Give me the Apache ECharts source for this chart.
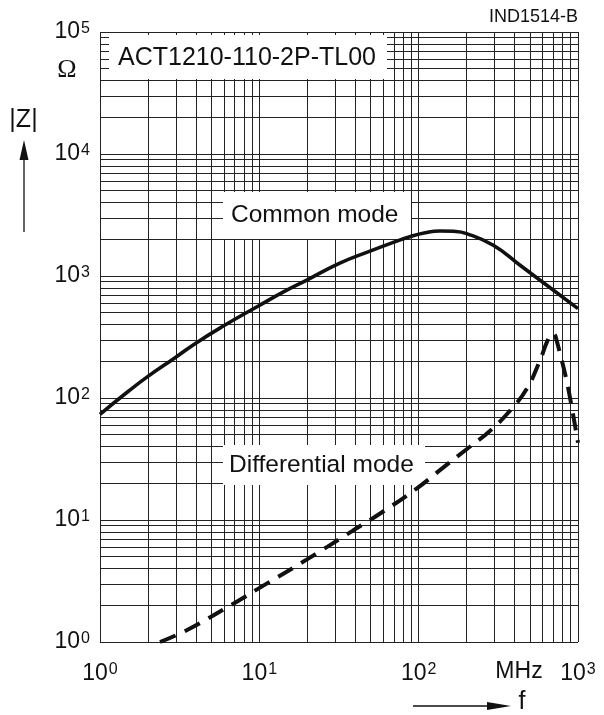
<!DOCTYPE html>
<html>
<head>
<meta charset="utf-8">
<script src="https://cdn.jsdelivr.net/npm/echarts@6/dist/echarts.min.js"></script>
<style>
html,body{margin:0;padding:0;background:#fff;}
#c{width:604px;height:715px;}
</style>
</head>
<body>
<div id="c"></div>
<script>
// Common mode impedance |Z| (Ohm) vs frequency (MHz)
const freqCM = [1, 1.5, 1.98, 2.96, 3.95, 5.94, 9.86, 14, 20, 32, 49.5, 70, 88, 110, 136, 165, 200, 294, 433, 637, 1000];
const zCM    = [73.5, 113, 149, 214, 279, 389, 568, 734, 930, 1275, 1600, 1895, 2100, 2262, 2339, 2324, 2227, 1785, 1224, 839, 540];
// Differential mode impedance
const freqDM = [2.38, 3.5, 6.87, 9.86, 19.8, 38.9, 57.3, 97, 143, 200, 281, 375, 477, 578, 640, 690, 715, 735, 760, 842, 920, 1000];
const zDM    = [1.0, 1.25, 2.06, 2.74, 4.73, 8.23, 11.3, 18.1, 27, 38, 54, 79, 119, 204, 290, 338, 330, 295, 250, 145, 80, 43];
// grid definition
const gridMultipliers = [1, 2, 3, 4, 5, 6, 7, 8, 9];
const xDecades = [1, 10, 100];
const yDecades = [1, 10, 100, 1000, 10000];
const xMax = 1000, yMax = 100000;

const FONT = '"Liberation Sans", Arial, Helvetica, sans-serif';
const xGrid = [], yGrid = [];
xDecades.forEach(d => gridMultipliers.forEach(m => xGrid.push(m * d)));
xGrid.push(xMax);
yDecades.forEach(d => gridMultipliers.forEach(m => yGrid.push(m * d)));
yGrid.push(yMax);

const gridLines = xGrid.map(v => ({xAxis: v})).concat(yGrid.map(v => ({yAxis: v})));

function supLabel(v) {
  const e = Math.round(Math.log10(v));
  return '{b|10}{s|' + e + '}';
}
const richLbl = {
  b: {fontSize: 23, fontFamily: FONT, color: '#111'},
  s: {fontSize: 16, fontFamily: FONT, color: '#111', verticalAlign: 'top', padding: [0, 0, 0, 1]}
};

const chart = echarts.init(document.getElementById('c'), null, {renderer: 'canvas'});
chart.setOption({
  animation: false,
  backgroundColor: '#fff',
  grid: {left: 100, right: 26, top: 32, bottom: 73, show: false},
  xAxis: {
    type: 'log', logBase: 10, min: 1, max: xMax,
    axisLine: {show: false}, axisTick: {show: false},
    splitLine: {show: false}, minorSplitLine: {show: false},
    axisLabel: {formatter: supLabel, rich: richLbl, margin: 20, color: '#111', showMinLabel: true, showMaxLabel: true}
  },
  yAxis: {
    type: 'log', logBase: 10, min: 1, max: yMax,
    axisLine: {show: false}, axisTick: {show: false},
    splitLine: {show: false}, minorSplitLine: {show: false},
    axisLabel: {formatter: supLabel, rich: richLbl, margin: 10, color: '#111', showMinLabel: true, showMaxLabel: true}
  },
  series: [
    {
      type: 'line', data: [], z: 1, silent: true,
      markLine: {
        z: 1, silent: true, symbol: 'none', animation: false,
        label: {show: false},
        lineStyle: {color: '#222', width: 1, type: 'solid'},
        emphasis: {disabled: true},
        data: gridLines
      }
    },
    {
      name: 'Common mode', type: 'line', z: 10,
      data: freqCM.map((f, i) => [f, zCM[i]]),
      smooth: 0.5, showSymbol: false, symbol: 'none',
      lineStyle: {color: '#111', width: 3.6, type: 'solid'}
    },
    {
      name: 'Differential mode', type: 'line', z: 10,
      data: freqDM.map((f, i) => [f, zDM[i]]),
      smooth: 0.45, showSymbol: false, symbol: 'none',
      lineStyle: {color: '#111', width: 4, type: [17, 10], cap: 'butt'}
    }
  ],
  graphic: [
    {type: 'rect', z: 5, shape: {x: 109, y: 35, width: 278, height: 44}, style: {fill: '#fff'}},
    {type: 'text', z: 6, style: {text: 'ACT1210-110-2P-TL00', x: 118, y: 58, font: '25px ' + FONT, fill: '#111', textVerticalAlign: 'middle', verticalAlign: 'middle'}},
    {type: 'rect', z: 5, shape: {x: 223, y: 192, width: 188, height: 47}, style: {fill: '#fff'}},
    {type: 'text', z: 6, style: {text: 'Common mode', x: 231, y: 215, font: '24.5px ' + FONT, fill: '#111', textVerticalAlign: 'middle', verticalAlign: 'middle'}},
    {type: 'rect', z: 5, shape: {x: 223, y: 445, width: 202, height: 40}, style: {fill: '#fff'}},
    {type: 'text', z: 6, style: {text: 'Differential mode', x: 229, y: 465, font: '24.5px ' + FONT, fill: '#111', textVerticalAlign: 'middle', verticalAlign: 'middle'}},
    {type: 'text', z: 6, style: {text: 'IND1514-B', x: 578, y: 17, font: '18px ' + FONT, fill: '#111', textAlign: 'right', align: 'right', textVerticalAlign: 'middle', verticalAlign: 'middle'}},
    {type: 'text', z: 6, style: {text: '\u03A9', x: 67, y: 70, font: '26px "Liberation Serif", "Times New Roman", serif', fill: '#111', textAlign: 'center', align: 'center', textVerticalAlign: 'middle', verticalAlign: 'middle'}},
    {type: 'text', z: 6, style: {text: '|Z|', x: 23.5, y: 120, font: '25px ' + FONT, fill: '#111', textAlign: 'center', align: 'center', textVerticalAlign: 'middle', verticalAlign: 'middle'}},
    {type: 'line', z: 6, shape: {x1: 24, y1: 232, x2: 24, y2: 158}, style: {stroke: '#111', lineWidth: 1.3}},
    {type: 'polygon', z: 6, shape: {points: [[24, 140], [19.5, 160], [28.5, 160]]}, style: {fill: '#111'}},
    {type: 'text', z: 6, style: {text: 'MHz', x: 519, y: 672, font: '23px ' + FONT, fill: '#111', textAlign: 'center', align: 'center', textVerticalAlign: 'middle', verticalAlign: 'middle'}},
    {type: 'line', z: 6, shape: {x1: 413, y1: 706, x2: 490, y2: 706}, style: {stroke: '#111', lineWidth: 1.3}},
    {type: 'polygon', z: 6, shape: {points: [[511, 706], [487, 702], [487, 710]]}, style: {fill: '#111'}},
    {type: 'text', z: 6, style: {text: 'f', x: 522, y: 702, font: '25px ' + FONT, fill: '#111', textAlign: 'center', align: 'center', textVerticalAlign: 'middle', verticalAlign: 'middle'}}
  ]
});
</script>
</body>
</html>
